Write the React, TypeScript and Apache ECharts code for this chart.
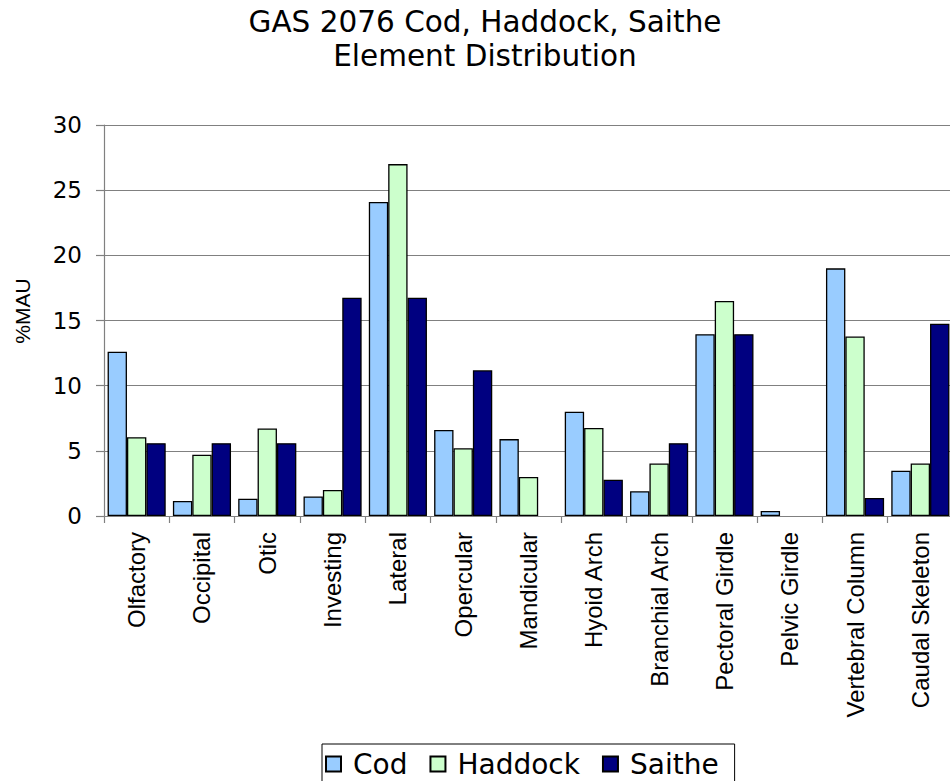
import React, { useEffect, useRef } from "react";
import * as echarts from "echarts";

// Skeletal element groups (x-axis categories)
const elements = [
  "Olfactory",
  "Occipital",
  "Otic",
  "Investing",
  "Lateral",
  "Opercular",
  "Mandicular",
  "Hyoid Arch",
  "Branchial Arch",
  "Pectoral Girdle",
  "Pelvic Girdle",
  "Vertebral Column",
  "Caudal Skeleton",
];

// %MAU per element group for each taxon
const cod = [12.6, 1.15, 1.33, 1.5, 24.1, 6.6, 5.9, 8.0, 1.9, 13.95, 0.38, 19.0, 3.47];
const haddock = [6.05, 4.7, 6.72, 2.0, 27.0, 5.2, 3.0, 6.75, 4.03, 16.5, 0, 13.77, 4.03];
const saithe = [5.59, 5.59, 5.59, 16.75, 16.75, 11.18, 0, 2.78, 5.59, 13.95, 0, 1.38, 14.75];

// Value-axis ticks
const yTicks = [0, 5, 10, 15, 20, 25, 30];
const yAxisTitle = "%MAU";

const seriesNames = ["Cod", "Haddock", "Saithe"];
const seriesColors = ["#99CCFF", "#CCFFCC", "#000080"];

const SANS = "Liberation Sans, Arial, sans-serif";
const WIDE = "DejaVu Sans, Liberation Sans, sans-serif";

export default function App() {
  const ref = useRef<HTMLDivElement>(null);

  useEffect(() => {
    if (!ref.current) return;
    const chart = echarts.init(ref.current, undefined, { renderer: "svg" });
    // A zero share has no bar at all (no outline sitting on the axis)
    const values = [cod, haddock, saithe].map((arr) =>
      arr.map((v) => (v === 0 ? null : v))
    );

    chart.setOption({
      animation: false,
      backgroundColor: "#ffffff",
      title: {
        text: "GAS 2076 Cod, Haddock, Saithe\nElement Distribution",
        left: 485,
        top: 5,
        textAlign: "center",
        padding: 0,
        textStyle: {
          fontFamily: WIDE,
          fontSize: 29.5,
          fontWeight: "normal",
          color: "#000",
          lineHeight: 34,
        },
      },
      // Vertical value-axis title, reading bottom to top
      graphic: [
        {
          type: "text",
          x: 22,
          y: 311,
          rotation: Math.PI / 2,
          style: {
            text: yAxisTitle,
            font: "21px 'Liberation Sans', Arial, sans-serif",
            fill: "#000",
            align: "center",
            verticalAlign: "middle",
          },
        },
      ],
      legend: {
        data: seriesNames,
        left: 322,
        top: 744,
        orient: "horizontal",
        padding: [6, 16, 6, 3],
        itemGap: 22,
        itemWidth: 29,
        itemHeight: 15,
        icon: "path://M0,0H10V10H0Z",
        borderColor: "#000",
        borderWidth: 1,
        backgroundColor: "#fff",
        textStyle: {
          fontFamily: WIDE,
          fontSize: 28,
          color: "#000",
          lineHeight: 25,
        },
      },
      grid: {
        left: 104,
        top: 125,
        right: 7,
        bottom: 265,
        containLabel: false,
      },
      xAxis: {
        type: "category",
        data: elements,
        boundaryGap: true,
        axisLine: { show: true, lineStyle: { color: "#808080", width: 1.2 } },
        axisTick: {
          show: true,
          length: 7,
          alignWithLabel: false,
          lineStyle: { color: "#808080", width: 1.2 },
        },
        axisLabel: {
          interval: 0,
          rotate: 90,
          margin: 16,
          fontFamily: SANS,
          fontSize: 24,
          color: "#000",
        },
        splitLine: { show: false },
      },
      yAxis: {
        type: "value",
        min: yTicks[0],
        max: yTicks[yTicks.length - 1],
        interval: yTicks[1] - yTicks[0],
        axisLine: { show: true, lineStyle: { color: "#808080", width: 1.2 } },
        axisTick: {
          show: true,
          inside: false,
          length: 8,
          lineStyle: { color: "#808080", width: 1.2 },
        },
        axisLabel: {
          margin: 22,
          fontFamily: WIDE,
          fontSize: 23,
          color: "#000",
        },
        splitLine: { show: true, lineStyle: { color: "#808080", width: 1.2 } },
      },
      series: seriesNames.map((name, i) => ({
        name,
        type: "bar",
        data: values[i],
        barGap: "0%",
        barCategoryGap: "11%",
        itemStyle: {
          color: seriesColors[i],
          borderColor: "#000",
          borderWidth: 1.3,
        },
      })),
    });

    return () => chart.dispose();
  }, []);

  return (
    <div
      style={{
        position: "fixed",
        left: 0,
        top: 0,
        width: "100vw",
        height: "100vh",
        overflow: "hidden",
        background: "#fff",
      }}
    >
      <div ref={ref} style={{ width: 960, height: 781 }} />
    </div>
  );
}
